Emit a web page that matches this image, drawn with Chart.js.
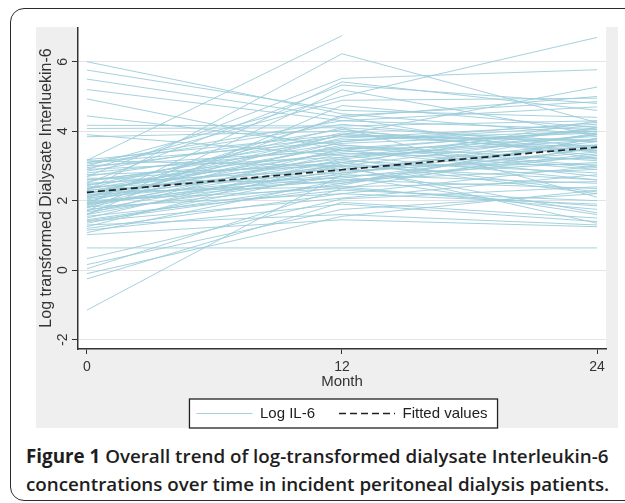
<!DOCTYPE html>
<html>
<head>
<meta charset="utf-8">
<script src="https://cdn.jsdelivr.net/npm/chart.js@4.4.0/dist/chart.umd.min.js"></script>
<style>
  body { margin: 0; width: 625px; height: 503px; overflow: hidden; background: #fff; position: relative; }
  #frame { position: absolute; left: 10px; top: 8px; width: 680px; height: 491px; border: 1.5px solid #2b2b2b; border-radius: 14px; }
  #graph { position: absolute; left: 36px; top: 27px; width: 582px; height: 401px; background: #efefef; }
  #caption { position: absolute; left: 26px; top: 442px; font-family: "Open Sans", sans-serif; font-size: 18.8px; font-weight: 600; line-height: 28px; color: #1e1e1e; white-space: nowrap; }
  #caption b { font-weight: 700; }
</style>
</head>
<body>
<div id="frame"></div>
<div id="graph"><canvas id="myChart" width="582" height="404"></canvas></div>
<div id="caption"><b>Figure 1</b> Overall trend of log-transformed dialysate Interleukin-6<br>concentrations over time in incident peritoneal dialysis patients.</div>
<script>
// data
const months = [0, 12, 24];
const xTicks = [0, 12, 24];
const yTicks = [-2, 0, 2, 4, 6];

// one value per patient at each visit (null = missing)
const month0 = [
  6.00, 5.76, 5.50, 5.20, 4.93, 4.44, 4.17, 4.08, 3.90, 3.84,
  0.64, 0.33, 0.16, 0.04, -0.10, -0.25, -1.15, 1.02, 1.08, 1.15,
  1.20, 1.25, 1.30, 1.35, 1.42, 3.16, 2.30, 3.00, 2.70, 2.20,
  1.90, 2.50, 1.70, 2.90, 1.60, 2.10, 1.80, 3.10, 1.45, 1.50,
  1.55, 1.60, 1.62, 1.68, 1.72, 1.75, 1.80, 1.82, 1.85, 1.88,
  1.90, 1.93, 1.96, 2.00, 2.02, 2.05, 2.08, 2.10, 2.12, 2.15,
  2.18, 2.20, 2.22, 2.25, 2.28, 2.30, 2.33, 2.36, 2.40, 2.43,
  2.46, 2.50, 2.55, 2.60, 2.65, 2.70, 2.75, 2.80, 2.85, 2.90,
  2.95, 3.00, 3.05, 3.10, 3.15, 3.18, 1.40, 2.60, 1.95, 2.35
];
const month12 = [
  4.50, 4.60, 4.40, 4.30, 3.45, 3.60, 4.15, 4.10, 3.30, 4.00,
  0.64, 2.05, 1.75, 2.35, 1.55, 1.95, 2.75, 1.45, 2.60, 1.90,
  2.20, 3.10, 1.60, 2.80, 2.40, 6.75, 6.23, 5.00, 5.52, 3.90,
  5.42, 5.33, 5.19, 4.89, 4.74, 4.40, 4.45, 4.30, 2.50, 3.20,
  2.30, 2.90, 3.50, 2.70, 3.00, 2.45, 3.35, 2.20, 3.70, 2.85,
  3.05, 2.60, 3.90, 2.35, 3.15, 3.45, 2.75, 3.60, 2.95, 3.25,
  2.55, 3.80, 3.00, 2.40, 3.40, 2.80, 3.55, 3.10, 2.65, 3.95,
  3.20, 2.90, 3.65, 3.35, 2.50, 3.75, 3.00, 3.50, 4.05, 3.25,
  3.85, 3.45, 4.20, 3.70, 3.00, 3.90, null, 3.10, 2.70, 4.10
];
const month24 = [
  3.90, 4.40, 3.20, 4.05, 2.70, 3.00, 4.30, 3.70, 2.60, 3.50,
  0.64, 2.40, 2.20, 1.85, 2.30, 1.50, 2.50, 1.25, 2.90, 1.40,
  3.00, 2.20, 1.30, 3.40, 1.75, null, 4.25, 6.70, 5.77, 5.27,
  4.60, 4.80, 3.90, 4.95, 4.10, 5.00, 4.85, 4.70, 3.30, 3.90,
  2.00, 3.60, 4.00, 3.10, 2.60, 3.80, 3.45, 1.90, 4.15, 3.25,
  4.30, 2.35, 3.70, 3.55, 2.80, 4.05, 3.95, 3.15, 1.65, 3.75,
  3.35, 4.20, 3.05, 2.55, 3.85, 3.60, 2.95, 4.10, 3.50, 3.40,
  2.25, 3.70, 3.95, 3.20, 3.80, 4.00, 1.35, 3.60, 3.30, 4.10,
  3.75, 2.90, 3.55, 4.25, 3.90, 3.45, 2.75, null, 1.60, 2.10
];
const fittedValues = [2.24, 2.89, 3.54];

const lineBlue = "rgba(155, 204, 218, 0.9)";
const fontFamily = "'Liberation Sans', Arial, sans-serif";

// one line per patient
const patientSets = month0.map((v, i) => ({
  label: i === 0 ? "Log IL-6" : "",
  data: [month0[i], month12[i], month24[i]].map((y, j) => ({ x: months[j], y: y })),
  borderColor: lineBlue,
  borderWidth: 1,
  pointRadius: 0,
  spanGaps: true,
  order: 0,
}));

const fittedSet = {
  label: "Fitted values",
  data: fittedValues.map((y, j) => ({ x: months[j], y: y })),
  borderColor: "#222",
  borderWidth: 1.7,
  borderDash: [7, 4],
  pointRadius: 0,
  order: -1,
};

// white plot region + legend box
const stataFrame = {
  id: "stataFrame",
  beforeDraw(chart) {
    const { ctx, chartArea } = chart;
    ctx.save();
    ctx.fillStyle = "#fff";
    ctx.fillRect(chartArea.left, chartArea.top, chartArea.right - chartArea.left, chartArea.bottom - chartArea.top);
    const hb = chart.legend.legendHitBoxes;
    if (hb && hb.length) {
      const a = hb[0], b = hb[hb.length - 1];
      ctx.fillRect(a.left - 7, a.top - 7, b.left + b.width - a.left + 17, a.height + 14);
    }
    ctx.restore();
  },
  afterDraw(chart) {
    const hb = chart.legend.legendHitBoxes;
    if (!hb || !hb.length) return;
    const a = hb[0], b = hb[hb.length - 1];
    const ctx = chart.ctx;
    ctx.save();
    ctx.strokeStyle = "#222";
    ctx.lineWidth = 1.3;
    ctx.strokeRect(a.left - 7, a.top - 7, b.left + b.width - a.left + 17, a.height + 14);
    ctx.restore();
  },
};

const config = {
  type: "line",
  data: { datasets: patientSets.concat([fittedSet]) },
  options: {
    responsive: false,
    animation: false,
    layout: { padding: { top: 0, right: 12, bottom: 0, left: 0 } },
    scales: {
      x: {
        type: "linear",
        min: -0.42,
        max: 24.42,
        afterBuildTicks: (s) => { s.ticks = xTicks.map((v) => ({ value: v })); },
        afterFit: (s) => { s.height = 33; s.paddingLeft = 0; s.paddingRight = 0; },
        ticks: { font: { family: fontFamily, size: 14 }, color: "#333", padding: 5, maxRotation: 0 },
        grid: { drawOnChartArea: false, drawTicks: true, tickLength: 5, tickColor: "#333" },
        border: { color: "#333", width: 1.5 },
        title: { display: true, text: "Month", font: { family: fontFamily, size: 15 }, color: "#333", padding: { top: 0, bottom: -9 } },
      },
      y: {
        min: -2.27,
        max: 7.0,
        afterBuildTicks: (s) => { s.ticks = yTicks.map((v) => ({ value: v })); },
        afterFit: (s) => { s.width = 42; s.paddingTop = 0; s.paddingBottom = 0; },
        ticks: { font: { family: fontFamily, size: 14 }, color: "#333", padding: 3, minRotation: 90, maxRotation: 90, crossAlign: "center" },
        grid: { color: "#e3e3e3", lineWidth: 1, tickLength: 6, tickColor: "#333" },
        border: { color: "#333", width: 1.5 },
        title: { display: true, text: "Log transformed Dialysate Interluekin-6", font: { family: fontFamily, size: 16 }, color: "#333", padding: { top: 1, bottom: 0 } },
      },
    },
    plugins: {
      legend: {
        position: "bottom",
        fullSize: false,
        labels: {
          font: { family: fontFamily, size: 15 },
          color: "#222",
          usePointStyle: true,
          pointStyle: "line",
          pointStyleWidth: 56,
          padding: 24,
          filter: (item) => item.text !== "",
          sort: (a, b) => a.datasetIndex - b.datasetIndex,
          // keep the dataset's own line style in the legend sample
          generateLabels: (chart) =>
            Chart.defaults.plugins.legend.labels.generateLabels(chart).map((item) => {
              const ds = chart.data.datasets[item.datasetIndex];
              item.lineDash = ds.borderDash || [];
              item.lineWidth = ds.borderWidth;
              item.strokeStyle = ds.borderColor;
              return item;
            }),
        },
      },
      tooltip: { enabled: false },
    },
  },
  plugins: [stataFrame],
};

// render init block
const myChart = new Chart(document.getElementById("myChart"), config);
</script>
</body>
</html>
